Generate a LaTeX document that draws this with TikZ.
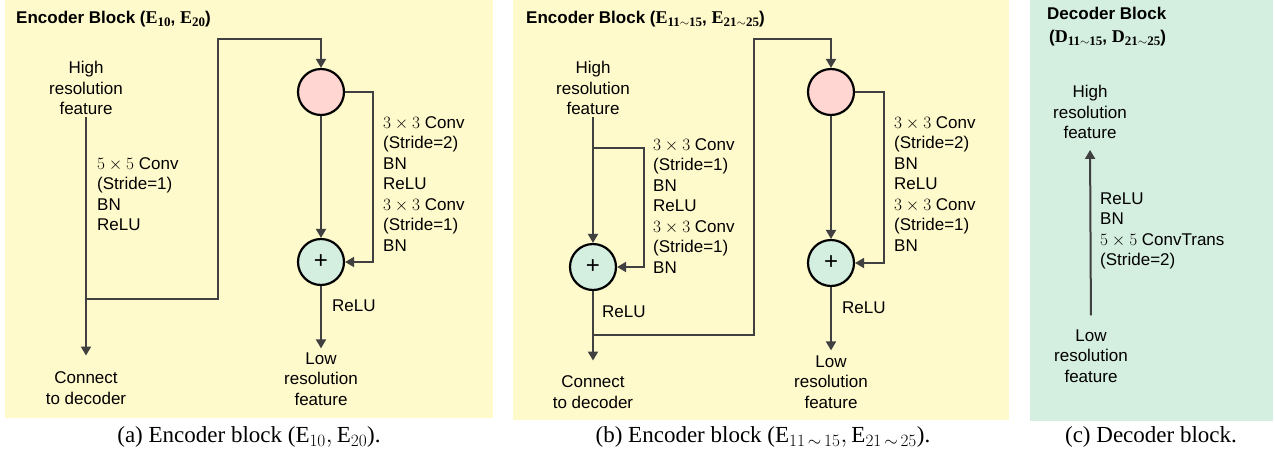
\documentclass[tikz,border=0pt]{standalone}
\usepackage{amsmath}
\usepackage{fontspec}
\setmainfont{Liberation Serif}
\setsansfont{Liberation Sans}
\usetikzlibrary{arrows.meta,positioning}
\definecolor{encyellow}{RGB}{255,250,203}
\definecolor{decgreen}{RGB}{212,238,224}
\definecolor{stagepink}{RGB}{255,214,210}
\definecolor{wiregray}{RGB}{64,64,64}
\newcommand{\blk}[2]{{\rmfamily\bfseries\fontsize{18}{20}\selectfont #1\raisebox{-3pt}{\fontsize{13}{14}\selectfont #2}}}
\tikzset{
  txt/.style={font=\sffamily\fontsize{17}{20.5}\selectfont, inner sep=2pt},
  ttl/.style={font=\sffamily\bfseries\fontsize{17}{23}\selectfont, inner sep=0pt, anchor=west},
  captxt/.style={font=\fontsize{23}{26}\selectfont, inner sep=0pt},
  wire/.style={draw=wiregray, line width=2pt},
  arr/.style={wire, -{Triangle[length=9pt,width=10pt]}},
  stage/.style={circle, draw=black, line width=2.2pt, fill=stagepink,
    minimum size=46pt, inner sep=0pt},
  addc/.style={stage, fill=decgreen, font=\sffamily\fontsize{24}{24}\selectfont},
}

\begin{document}
\begin{tikzpicture}[x=1pt, y=-1pt]
\useasboundingbox (0,0) rectangle (1275,461);

%% Panels
\fill[encyellow] (5,0) rectangle (493,418);
\fill[encyellow] (513,0) rectangle (1009,420);
\fill[decgreen] (1030,0) rectangle (1273,421);

%% (a) Encoder block E10, E20
\node[ttl] (ttlA) at (16,19) {Encoder Block (\blk{E}{10}, \blk{E}{20})};
\node[txt, align=center] (hiA) at (86,88) {High\\resolution\\feature};
\node[txt, align=center] (conA) at (86,388) {Connect\\to decoder};
\node[txt, align=left, anchor=west] (convA) at (95,194)
  {$5\times5$ Conv\\(Stride=1)\\BN\\ReLU};
\node[stage] (pinkA) at (321,92) {};
\node[addc] (plusA) at (321,262) {+};
\node[txt, align=left, anchor=west] (resA) at (381,184)
  {$3\times3$ Conv\\(Stride=2)\\BN\\ReLU\\$3\times3$ Conv\\(Stride=1)\\BN};
\node[txt, anchor=west] (reluA) at (330,306) {ReLU};
\node[txt, align=center] (lowA) at (321,379) {Low\\resolution\\feature};
\coordinate (jA) at (86,299);

\draw[arr, shorten >=14pt] (hiA.south) -- (conA.north);
\draw[arr] (jA) -| (218,39) -| (pinkA.north);
\draw[arr] (pinkA.south) -- (plusA.north);
\draw[arr] (pinkA.east) -| (373,262) -- (plusA.east);
\draw[arr, shorten >=2pt] (plusA.south) -- (lowA.north);

%% (b) Encoder block E11~15, E21~25
\node[ttl] (ttlB) at (526,19)
  {Encoder Block (\blk{E}{11$\sim$15}, \blk{E}{21$\sim$25})};
\node[txt, align=center] (hiB) at (593,88) {High\\resolution\\feature};
\node[addc] (plusB1) at (593,267) {+};
\node[txt, align=left, anchor=west] (convB) at (651,206)
  {$3\times3$ Conv\\(Stride=1)\\BN\\ReLU\\$3\times3$ Conv\\(Stride=1)\\BN};
\node[txt, anchor=west] (reluB1) at (600,312) {ReLU};
\node[txt, align=center] (conB) at (593,392) {Connect\\to decoder};
\node[stage] (pinkB) at (831,92) {};
\node[addc] (plusB2) at (831,263) {+};
\node[txt, align=left, anchor=west] (resB) at (892,184)
  {$3\times3$ Conv\\(Stride=2)\\BN\\ReLU\\$3\times3$ Conv\\(Stride=1)\\BN};
\node[txt, anchor=west] (reluB2) at (840,308) {ReLU};
\node[txt, align=center] (lowB) at (831,382) {Low\\resolution\\feature};
\coordinate (jB1) at (593,148);
\coordinate (jB2) at (593,335);

\draw[arr] (hiB.south) -- (plusB1.north);
\draw[arr] (jB1) -| (644,267) -- (plusB1.east);
\draw[arr, shorten >=13pt] (plusB1.south) -- (conB.north);
\draw[arr] (jB2) -| (754,39) -| (pinkB.north);
\draw[arr] (pinkB.south) -- (plusB2.north);
\draw[arr] (pinkB.east) -| (884,263) -- (plusB2.east);
\draw[arr, shorten >=3pt] (plusB2.south) -- (lowB.north);

%% (c) Decoder block
\node[ttl, align=left] (ttlC) at (1047,27)
  {Decoder Block\\\hspace{2pt}(\blk{D}{11$\sim$15}, \blk{D}{21$\sim$25})};
\node[txt, align=center] (hiC) at (1090,112) {High\\resolution\\feature};
\node[txt, align=center] (lowC) at (1091,356) {Low\\resolution\\feature};
\node[txt, align=left, anchor=west] (decC) at (1098,231)
  {ReLU\\BN\\$5\times5$ ConvTrans\\(Stride=2)};
\draw[arr, shorten <=12pt, shorten >=9pt] (lowC.north) -- (hiC.south);

%% Captions
\node[captxt] (capA) at (249,437) {(a) Encoder block ($\mathrm{E}_{10}, \mathrm{E}_{20}$).};
\node[captxt] (capB) at (763,437)
  {(b) Encoder block ($\mathrm{E}_{11\,\sim\,15}, \mathrm{E}_{21\,\sim\,25}$).};
\node[captxt] (capC) at (1151,437) {(c) Decoder block.};

\end{tikzpicture}
\end{document}
